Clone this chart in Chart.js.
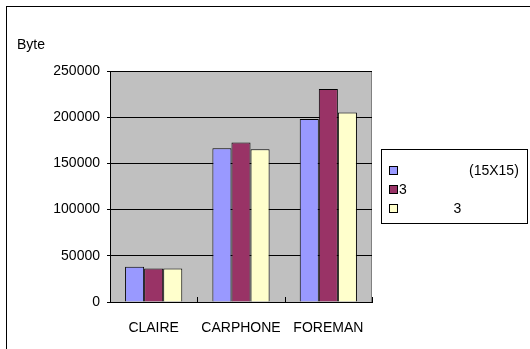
<!DOCTYPE html>
<html>
<head>
<meta charset="utf-8">
<script src="https://cdn.jsdelivr.net/npm/chart.js@4/dist/chart.umd.min.js"></script>
<style>
html,body{margin:0;padding:0;background:#fff;}
#wrap{width:530px;height:349px;}
</style>
</head>
<body>
<div id="wrap"><canvas id="c" width="530" height="349"></canvas></div>
<script>
const categories = ["CLAIRE", "CARPHONE", "FOREMAN"];
const seriesLabels = ["                  (15X15)", "3", "              3"];
const seriesA = [38200, 166300, 198000];
const seriesB = [36200, 172600, 230500];
const seriesC = [36200, 165200, 205000];
const yTicks = [0, 50000, 100000, 150000, 200000, 250000];
const yTitle = "Byte";
const colors = ["#9999FF", "#993366", "#FFFFCC"];

const FONT = "'Liberation Sans', Arial, sans-serif";

const framePlugin = {
  id: 'framePlugin',
  beforeDraw(chart) {
    const ctx = chart.ctx, a = chart.chartArea;
    ctx.save();
    ctx.fillStyle = '#fff';
    ctx.fillRect(0, 0, chart.width, chart.height);
    ctx.strokeStyle = '#000';
    ctx.lineWidth = 1;
    ctx.strokeRect(6.5, 6.5, 600, 400);
    ctx.fillStyle = '#C0C0C0';
    ctx.fillRect(a.left, a.top, a.right - a.left, a.bottom - a.top);
    ctx.strokeStyle = '#808080';
    ctx.beginPath();
    ctx.moveTo(a.right - 0.5, a.top);
    ctx.lineTo(a.right - 0.5, a.bottom);
    ctx.stroke();
    ctx.fillStyle = '#000';
    ctx.font = '14px ' + FONT;
    ctx.textBaseline = 'alphabetic';
    ctx.textAlign = 'left';
    ctx.fillText(yTitle, 17, 49);
    ctx.restore();
  },
  afterDraw(chart) {
    const ctx = chart.ctx, a = chart.chartArea;
    const xs = chart.scales.x;
    ctx.save();
    ctx.strokeStyle = '#000';
    ctx.lineWidth = 1;
    for (let i = 0; i <= categories.length; i++) {
      const px = Math.round(xs.getPixelForValue(i - 0.5)) + 0.5;
      ctx.beginPath();
      ctx.moveTo(px, a.bottom);
      ctx.lineTo(px, a.bottom - 5);
      ctx.stroke();
    }
    const lx = 381, ly = 149, lw = 146, lh = 74;
    ctx.fillStyle = '#fff';
    ctx.fillRect(lx, ly, lw, lh);
    ctx.strokeRect(lx + 0.5, ly + 0.5, lw, lh);
    ctx.font = '14px ' + FONT;
    ctx.textBaseline = 'middle';
    ctx.textAlign = 'left';
    chart.data.datasets.forEach((ds, i) => {
      const cy = 171 + i * 19;
      ctx.fillStyle = ds.backgroundColor;
      ctx.fillRect(390, cy - 4, 7, 7);
      ctx.strokeStyle = '#000';
      ctx.strokeRect(389.5, cy - 4.5, 8, 8);
      ctx.fillStyle = '#000';
      ctx.fillText(ds.label, 399, cy);
    });
    ctx.restore();
  }
};

new Chart(document.getElementById('c'), {
  type: 'bar',
  data: {
    labels: categories,
    datasets: [
      { label: seriesLabels[0], data: seriesA, backgroundColor: colors[0] },
      { label: seriesLabels[1], data: seriesB, backgroundColor: colors[1] },
      { label: seriesLabels[2], data: seriesC, backgroundColor: colors[2] }
    ].map(d => Object.assign(d, { borderColor: '#000', borderWidth: 1, borderSkipped: 'bottom' }))
  },
  options: {
    responsive: false,
    animation: false,
    devicePixelRatio: 1,
    layout: { padding: { left: 0, right: 158, top: 71, bottom: 0 } },
    datasets: { bar: { categoryPercentage: 0.655, barPercentage: 1.0 } },
    plugins: { legend: { display: false }, tooltip: { enabled: false }, title: { display: false } },
    scales: {
      x: {
        grid: { display: false, drawTicks: false },
        border: { display: true, color: '#000', width: 1 },
        ticks: { color: '#000', font: { family: FONT, size: 14 }, padding: 18, maxRotation: 0, autoSkip: false },
        afterFit(s) { s.height = 47; }
      },
      y: {
        min: 0, max: 250000,
        afterBuildTicks(s) { s.ticks = yTicks.map(v => ({ value: v })); },
        grid: { color: '#000', lineWidth: 1, drawTicks: true, tickLength: 3 },
        border: { display: true, color: '#000', width: 1 },
        ticks: { color: '#000', font: { family: FONT, size: 14 }, padding: 7, callback: v => String(v) },
        afterFit(s) { s.width = 110; }
      }
    }
  },
  plugins: [framePlugin]
});
</script>
</body>
</html>
